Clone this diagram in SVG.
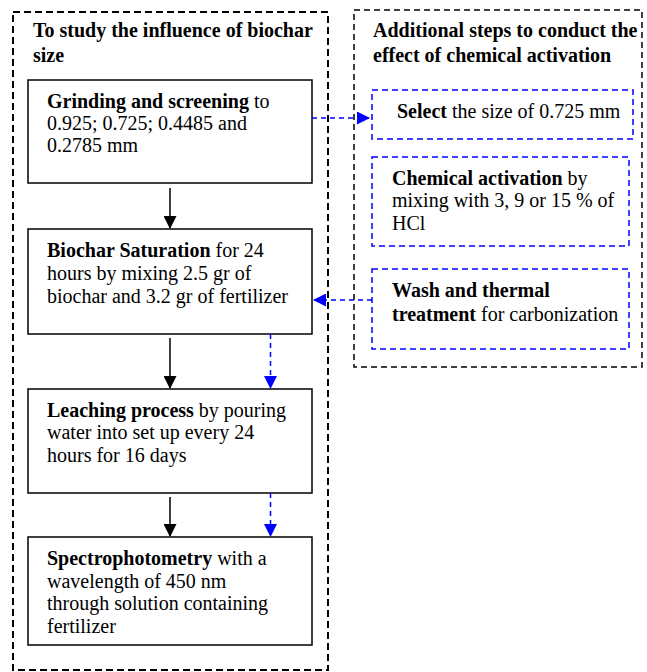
<svg xmlns="http://www.w3.org/2000/svg" width="647" height="672" viewBox="0 0 647 672">
<style>
text{font-family:"Liberation Serif","Times New Roman",serif;font-size:20px;fill:#000}
.b{font-weight:bold}
.title{font-weight:bold;font-size:20px}
.box{fill:#fff;stroke:#000;stroke-width:1.5}
.bbox{fill:#fff;stroke:#0000ff;stroke-width:1.5;stroke-dasharray:6 4}
.outer{fill:none;stroke:#000;stroke-width:2;stroke-dasharray:7 4}
.outer2{fill:none;stroke:#000;stroke-width:1.5;stroke-dasharray:6 4}
.ar{stroke:#000;stroke-width:1.5;fill:none}
.bar{stroke:#0000ff;stroke-width:1.5;fill:none;stroke-dasharray:5 4}
</style>
<defs>
<marker id="ah" markerWidth="13" markerHeight="13" refX="12" refY="6.5" orient="auto" markerUnits="userSpaceOnUse">
<path d="M0,0 L13,6.5 L0,13 z" fill="#000"/>
</marker>
<marker id="bh" markerWidth="13" markerHeight="13" refX="12" refY="6.5" orient="auto" markerUnits="userSpaceOnUse">
<path d="M0,0 L13,6.5 L0,13 z" fill="#0000ff"/>
</marker>
</defs>

<g id="group-size">
<rect class="outer" x="13" y="12" width="315" height="658"/>
<text class="title" x="33" y="37">To study the influence of biochar</text>
<text class="title" x="33" y="62">size</text>
</g>

<g id="group-activation">
<rect class="outer2" x="354" y="10" width="288" height="357"/>
<text class="title" x="373" y="37">Additional steps to conduct the</text>
<text class="title" x="373" y="62">effect of chemical activation</text>
</g>

<g id="grinding">
<rect class="box" x="28" y="80" width="284" height="103"/>
<text x="47" y="108"><tspan class="b">Grinding and screening</tspan> to</text>
<text x="47" y="130">0.925; 0.725; 0.4485 and</text>
<text x="47" y="152">0.2785 mm</text>
</g>

<g id="saturation">
<rect class="box" x="28" y="229" width="284" height="105"/>
<text x="47" y="257"><tspan class="b">Biochar Saturation</tspan> for 24</text>
<text x="47" y="280">hours by mixing 2.5 gr of</text>
<text x="47" y="303">biochar and 3.2 gr of fertilizer</text>
</g>

<g id="leaching">
<rect class="box" x="28" y="389" width="284" height="104"/>
<text x="47" y="417"><tspan class="b">Leaching process</tspan> by pouring</text>
<text x="47" y="439">water into set up every 24</text>
<text x="47" y="462">hours for 16 days</text>
</g>

<g id="spectro">
<rect class="box" x="28" y="537" width="284" height="108"/>
<text x="47" y="565"><tspan class="b">Spectrophotometry</tspan> with a</text>
<text x="47" y="588">wavelength of 450 nm</text>
<text x="47" y="610">through solution containing</text>
<text x="47" y="633">fertilizer</text>
</g>

<g id="select">
<rect class="bbox" x="372" y="90" width="261" height="49"/>
<text x="397" y="118"><tspan class="b">Select</tspan> the size of 0.725 mm</text>
</g>

<g id="chemical">
<rect class="bbox" x="372" y="157" width="257" height="89"/>
<text x="392" y="185"><tspan class="b">Chemical activation</tspan> by</text>
<text x="392" y="207">mixing with 3, 9 or 15 % of</text>
<text x="392" y="230">HCl</text>
</g>

<g id="wash">
<rect class="bbox" x="372" y="269" width="257" height="80"/>
<text x="392" y="297" class="b">Wash and thermal</text>
<text x="392" y="321"><tspan class="b">treatment</tspan> for carbonization</text>
</g>

<g id="connectors">
<line class="ar" x1="170" y1="188" x2="170" y2="228" marker-end="url(#ah)"/>
<line class="ar" x1="170" y1="338" x2="170" y2="388" marker-end="url(#ah)"/>
<line class="ar" x1="170" y1="497" x2="170" y2="536" marker-end="url(#ah)"/>
<line class="bar" x1="270.5" y1="334" x2="270.5" y2="388" marker-end="url(#bh)"/>
<line class="bar" x1="270.5" y1="493" x2="270.5" y2="536" marker-end="url(#bh)"/>
<line class="bar" x1="312" y1="118" x2="369" y2="118" marker-end="url(#bh)"/>
<line class="bar" x1="372" y1="300" x2="314" y2="300" marker-end="url(#bh)"/>
</g>
</svg>
